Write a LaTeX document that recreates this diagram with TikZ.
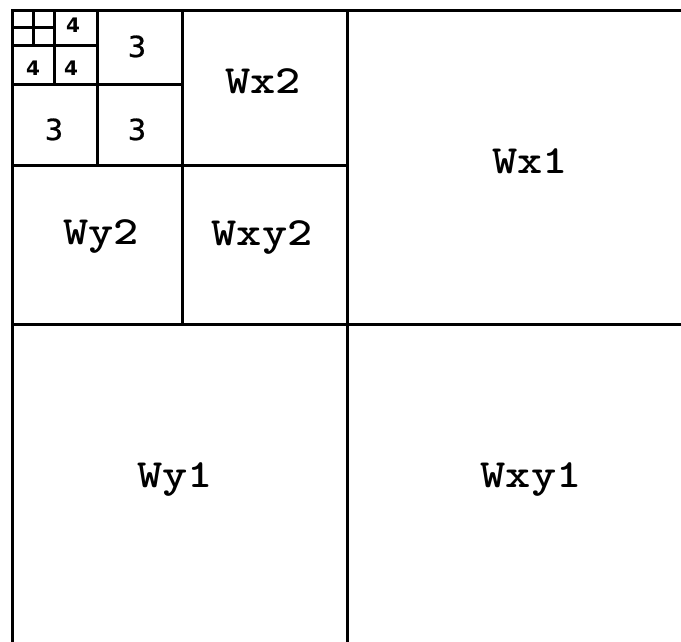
\documentclass[tikz,border=0pt]{standalone}
\usepackage{fontspec}
\usepackage{graphicx}
\newfontfamily\digfont{DejaVu Sans}
\newcommand{\widetxt}[1]{\scalebox{1.2}[1]{#1}}
\begin{document}
\begin{tikzpicture}[x=1pt,y=-1pt,
  grid/.style={line width=3pt,line cap=rect},
  wlab/.style={anchor=base,inner sep=0pt,font=\ttfamily\bfseries\fontsize{40}{40}\selectfont},
  three/.style={anchor=base,inner sep=0pt,font=\digfont\fontsize{29}{29}\selectfont\addfontfeatures{FakeBold=0.8}},
  four/.style={anchor=base,inner sep=0pt,font=\digfont\bfseries\fontsize{20}{20}\selectfont}]
\useasboundingbox (0,0) rectangle (681,641);
% outer border
\draw[grid] (681,10) -- (12,10) -- (12,641);
% level 1
\draw[grid] (347,10) -- (347,641);
\draw[grid] (12,324) -- (681,324);
% level 2
\draw[grid] (182,10) -- (182,324);
\draw[grid] (12,165) -- (347,165);
% level 3
\draw[grid] (97,10) -- (97,165);
\draw[grid] (12,84) -- (182,84);
% level 4
\draw[grid] (54,10) -- (54,84);
\draw[grid] (12,45) -- (97,45);
% level 5
\draw[grid] (33,10) -- (33,45);
\draw[grid] (12,27) -- (54,27);
% labels
\node[wlab] (wx1)  at (530,173) {\widetxt{Wx1}};
\node[wlab] (wy1)  at (175,487) {\widetxt{Wy1}};
\node[wlab] (wxy1) at (531,487) {\widetxt{Wxy1}};
\node[wlab] (wx2)  at (263,93)  {\widetxt{Wx2}};
\node[wlab] (wy2)  at (101,244) {\widetxt{Wy2}};
\node[wlab] (wxy2) at (262,245) {\widetxt{Wxy2}};
\node[three] (t1) at (137,57)  {3};
\node[three] (t2) at (54,140)  {3};
\node[three] (t3) at (137,140) {3};
\node[four] (f1) at (73,32) {4};
\node[four] (f2) at (33,75) {4};
\node[four] (f3) at (71,75) {4};
\end{tikzpicture}
\end{document}
